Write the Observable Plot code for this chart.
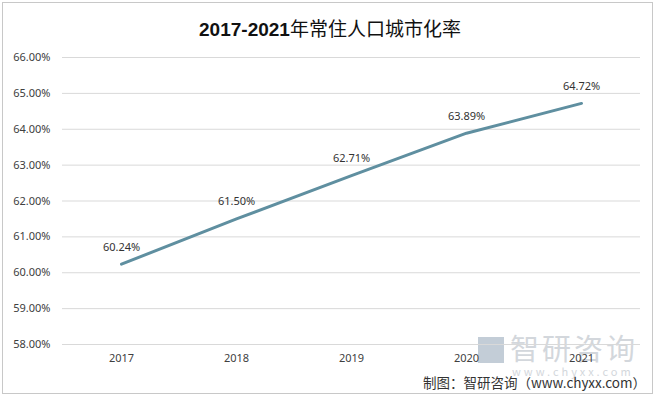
<!DOCTYPE html>
<html>
<head>
<meta charset="utf-8">
<script src="https://cdn.jsdelivr.net/npm/d3@7"></script>
<script src="https://cdn.jsdelivr.net/npm/@observablehq/plot@0.6"></script>
<style>
  html, body { margin: 0; padding: 0; background: #fff; }
  #wrap { position: relative; width: 660px; height: 398px; overflow: hidden; font-family: "Noto Sans", "Noto Sans CJK SC", sans-serif; }
  #frame { position: absolute; left: 2px; top: 2px; width: 651px; height: 392px; border: 1.5px solid #c8c8c8; box-sizing: border-box; }
  #title { position: absolute; left: 0; top: 14px; width: 660px; text-align: center; font-size: 19px; font-weight: bold; color: #111; font-family: "Liberation Sans", "Noto Sans CJK SC", sans-serif; }
  #title .cn { font-weight: normal; font-family: "Noto Sans CJK SC", sans-serif; }
  #chart { position: absolute; left: 0; top: 40px; }
  #caption { position: absolute; right: 14px; top: 372px; font-size: 13.5px; color: #333; font-family: "Noto Sans CJK SC", sans-serif; }
  #wm { position: absolute; left: 478px; top: 326px; color: #d3d7dc; font-family: "Noto Sans CJK SC", sans-serif; }
  #wm .big { font-size: 29px; letter-spacing: 3px; }
  #wm .logo { display: inline-block; width: 26px; height: 26px; background: #c3cdd7; vertical-align: -3px; margin-right: 6px; }
  #wm .small { position: absolute; left: 34px; top: 37px; font-size: 11px; letter-spacing: 3px; white-space: nowrap; }
</style>
</head>
<body>
<div id="wrap">
  <div id="frame"></div>
  <div id="title">2017-2021<span class="cn">年常住人口城市化率</span></div>
  <div id="wm"><span class="logo"></span><span class="big">智研咨询</span><div class="small">www.chyxx.com</div></div>
  <div id="chart"></div>
  <div id="caption">制图：智研咨询（www.chyxx.com）</div>
</div>
<script>
const years = ["2017", "2018", "2019", "2020", "2021"];
const rates = [60.24, 61.50, 62.71, 63.89, 64.72];
const yTicks = [58, 59, 60, 61, 62, 63, 64, 65, 66];

const data = years.map((y, i) => ({year: y, rate: rates[i]}));

const chart = Plot.plot({
  width: 660,
  height: 335,
  marginTop: 17,
  marginBottom: 31,
  marginLeft: 62,
  marginRight: 20,
  style: { fontFamily: "Noto Sans, sans-serif", fontSize: "11px", color: "#404040", background: "transparent" },
  x: { type: "point", domain: years, padding: 0.5, label: null, tickSize: 0, tickPadding: 10 },
  y: { domain: [58, 66], ticks: yTicks, tickFormat: d => d.toFixed(2) + "%", label: null, tickSize: 0, tickPadding: 12 },
  marks: [
    Plot.gridY(yTicks, { stroke: "#d9d9d9", strokeOpacity: 1, strokeWidth: 1 }),
    Plot.axisY(yTicks, { tickSize: 0, tickPadding: 12, tickFormat: d => d.toFixed(2) + "%", fontSize: 11, fill: "#404040", label: null }),
    Plot.axisX({ tickSize: 0, tickPadding: 10, fontSize: 11, fill: "#404040", label: null }),
    Plot.line(data, { x: "year", y: "rate", stroke: "#5f8fa0", strokeWidth: 3 }),
    Plot.text(data, { x: "year", y: "rate", text: d => d.rate.toFixed(2) + "%", dy: -17, fontSize: 11, fill: "#333" })
  ]
});
document.getElementById("chart").appendChild(chart);
</script>
</body>
</html>
